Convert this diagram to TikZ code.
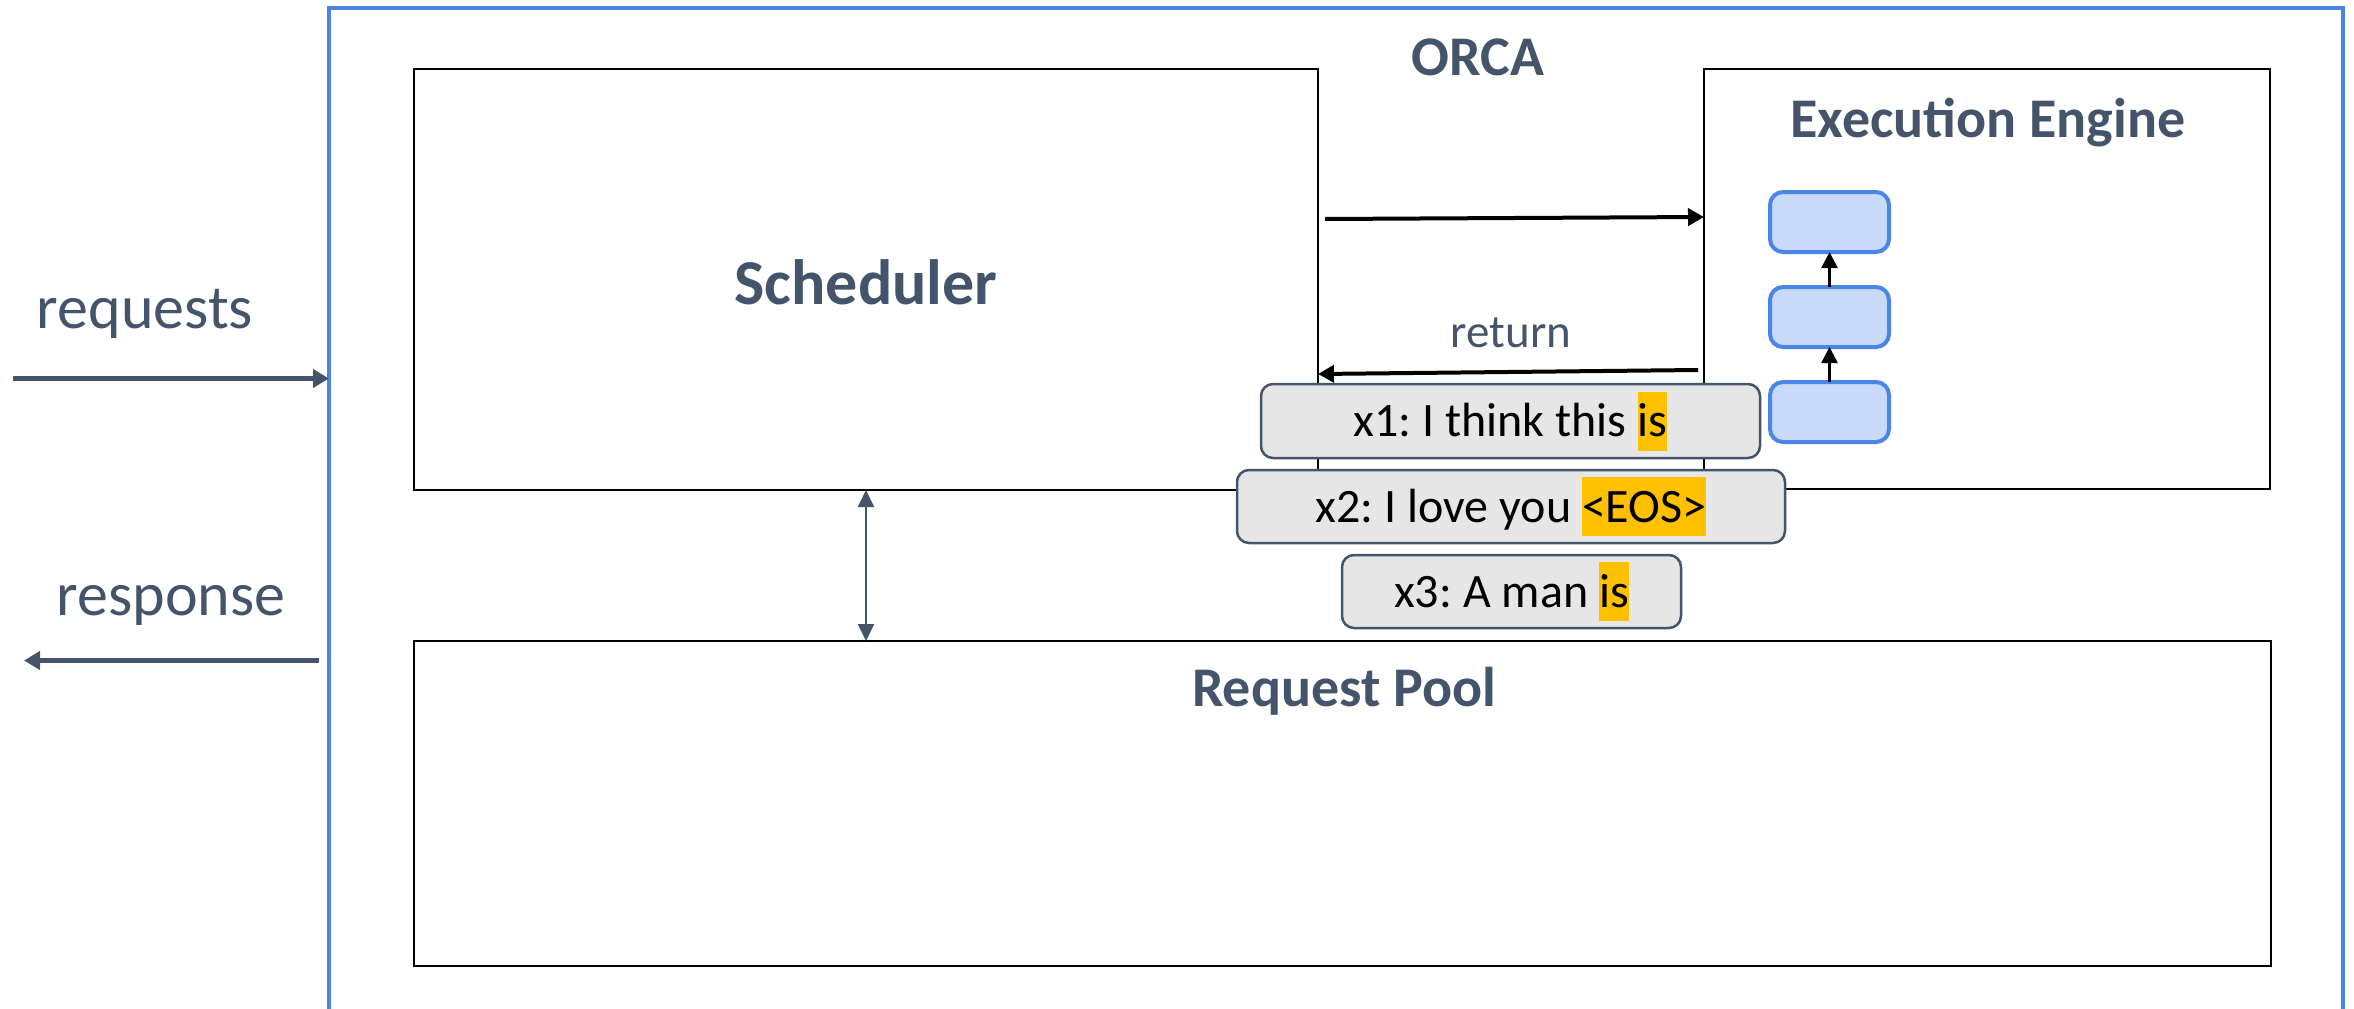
\documentclass[tikz,border=0pt]{standalone}
\usepackage{fontspec}
\setmainfont{Carlito}
\usetikzlibrary{arrows.meta}

\definecolor{slate}{HTML}{44546A}
\definecolor{orcablue}{HTML}{4A86E8}
\definecolor{layerfill}{HTML}{C9DAF8}
\definecolor{tokfill}{HTML}{E6E6E6}
\definecolor{hl}{HTML}{FFC000}

% font size helper and highlighted token
\newcommand\fsz[1]{\fontsize{#1}{#1}\selectfont}
\newcommand\tokstrut{\rule[-14pt]{0pt}{59pt}}
\newcommand\hlword[1]{{\setlength{\fboxsep}{0pt}\colorbox{hl}{\tokstrut#1}}}

\tikzset{
  panel/.style={draw=black, line width=2pt, inner sep=0pt, outer sep=0pt},
  title/.style={text=slate, font=\bfseries\fsz{56}, inner sep=0pt},
  sidelabel/.style={text=slate, font=\fsz{62}, inner sep=0pt},
  layer/.style={draw=orcablue, fill=layerfill, line width=4pt, rounded corners=13pt,
    minimum width=119pt, minimum height=60pt, inner sep=0pt, outer sep=0pt},
  tok/.style={draw=slate, fill=tokfill, line width=2.5pt, rounded corners=12pt,
    inner sep=0pt, outer sep=0pt, font=\fsz{48}},
  flow/.style={draw=slate, line width=5pt, -{Triangle[length=16pt,width=18pt]}},
  call/.style={draw=black, line width=4pt, -{Triangle[length=16pt,width=17pt]}},
  up/.style={draw=black, line width=2.5pt, -{Triangle[length=16pt,width=16pt]}},
  sync/.style={draw=slate, line width=2pt,
    {Triangle[length=17pt,width=16pt]}-{Triangle[length=17pt,width=16pt]}},
}

\begin{document}
\frenchspacing
\begin{tikzpicture}[x=1pt, y=-1pt]
\useasboundingbox (0,0) rectangle (2354,1009);
\clip (0,0) rectangle (2354,1009);

% outer ORCA frame (open at the bottom edge)
\node[draw=orcablue, line width=3.5pt, inner sep=0pt, outer sep=0pt,
      minimum width=2014pt, minimum height=1100pt, anchor=north west] (orca) at (329,8) {};
\node[title, anchor=base] (orcatitle) at (1478,75) {ORCA};

% main panels
\node[panel, minimum width=904pt, minimum height=421pt] (sched) at (866,279.5) {};
\node[text=slate, font=\bfseries\fsz{64}, inner sep=0pt, anchor=base] (schedtitle) at (866,304) {Scheduler};

\node[panel, minimum width=566pt, minimum height=420pt] (engine) at (1987,279) {};
\node[title, anchor=base] (enginetitle) at (1988,137) {Execution Engine};

\node[panel, minimum width=1857pt, minimum height=325pt] (pool) at (1342.5,803.5) {};
\node[title, anchor=base] (pooltitle) at (1344,706) {Request Pool};

% model layers inside the engine
\node[layer] (l1) at (1829.5,222) {};
\node[layer] (l2) at (1829.5,317) {};
\node[layer] (l3) at (1829.5,412) {};
\draw[up] (l3.north) -- (l2.south);
\draw[up] (l2.north) -- (l1.south);

% scheduler <-> engine
\draw[call] ([xshift=7pt,yshift=60.5pt]sched.east) -- ([yshift=62pt]engine.west);
\draw[call] ([xshift=-6pt,yshift=-91pt]engine.west) -- ([yshift=-94.5pt]sched.east);
\node[text=slate, font=\fsz{47}, inner sep=0pt, anchor=base] (ret) at (1511,347) {return};

% batch of sequences
\node[tok, minimum width=499pt, minimum height=74pt] (x1) at (1510.5,421)
  {\tokstrut x1: I think this \hlword{is}};
\node[tok, minimum width=548pt, minimum height=73pt] (x2) at (1511,506.5)
  {\tokstrut x2: I love you \hlword{<EOS>}};
\node[tok, minimum width=339pt, minimum height=73pt] (x3) at (1511.5,591.5)
  {\tokstrut x3: A man \hlword{is}};

% scheduler <-> request pool
\draw[sync] (sched.south) -- (sched.south |- pool.north);

% external traffic
\coordinate (reqsrc) at (13,378.5);
\coordinate (respdst) at (24,660.5);
\node[sidelabel, anchor=base] (reqlabel) at (145,328) {requests};
\node[sidelabel, anchor=base] (resplabel) at (171,615) {response};
\draw[flow] (reqsrc) -- (orca.west |- reqsrc);
\draw[flow] ([xshift=-10pt]orca.west |- respdst) -- (respdst);
\end{tikzpicture}
\end{document}
